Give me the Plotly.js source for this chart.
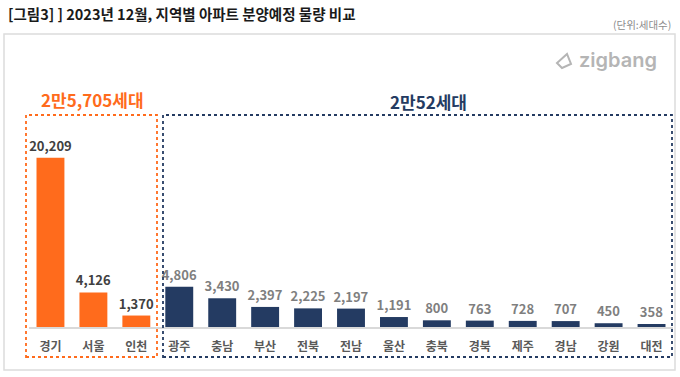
<!DOCTYPE html>
<html>
<head>
<meta charset="utf-8">
<script src="https://cdn.plot.ly/plotly-3.0.1.min.js"></script>
<style>html,body{margin:0;padding:0;background:#fff;}#chart{width:680px;height:377px;}</style>
</head>
<body>
<div id="chart"></div>
<script>
// ---- data ----
const regions = ["경기","서울","인천","광주","충남","부산","전북","전남","울산","충북","경북","제주","경남","강원","대전"];
const units = [20209,4126,1370,4806,3430,2397,2225,2197,1191,800,763,728,707,450,358];
const capitalRegions = ["경기","서울","인천"];
const capitalTotalLabel = "2만5,705세대";
const otherTotalLabel = "2만52세대";

const ORANGE = "#FF6B1C", NAVY = "#243B62";
const FONT = "Noto Sans CJK KR";

const isCap = regions.map(r => capitalRegions.includes(r));
const barColors = isCap.map(c => c ? ORANGE : NAVY);
const textColors = isCap.map(c => c ? "#404040" : "#7f7f7f");

// layout geometry helpers (pixel -> paper)
const W = 680, Hh = 377, ML = 29, MR = 7, MT = 126, MB = 50;
const PW = W - ML - MR, PH = Hh - MT - MB;
const px = x => (x - ML) / PW;
const py = y => (Hh - MB - y) / PH;

const trace = {
  type: "bar",
  x: regions,
  y: units,
  marker: {color: barColors},
  text: units.map(v => v.toLocaleString("en-US")),
  textposition: "outside",
  constraintext: "none",
  cliponaxis: false,
  textfont: {family: FONT, size: 13, color: textColors, weight: 700},
  hoverinfo: "x+y"
};

const layout = {
  width: W, height: Hh,
  margin: {l: ML, r: MR, t: MT, b: MB},
  paper_bgcolor: "#fff", plot_bgcolor: "#fff",
  font: {family: FONT},
  showlegend: false,
  bargap: 0.35,
  title: {text: "[그림3] ] 2023년 12월, 지역별 아파트 분양예정 물량 비교", x: 8/W, xanchor: "left",
          xref: "container", y: 1 - 15/Hh, yref: "container", yanchor: "middle",
          font: {family: FONT, size: 14.5, color: "#1a1a1a", weight: 700}},
  xaxis: {showline: true, linecolor: "#d9d9d9", linewidth: 1.5, ticks: "", showgrid: false,
          ticklabelstandoff: 8,
          tickmode: "array", tickvals: regions, ticktext: regions.map(r => "<b>" + r + "</b>"),
          tickfont: {family: FONT, size: 12, color: "#595959"}, fixedrange: true},
  yaxis: {range: [0, 24000], visible: false, showgrid: false, zeroline: false, fixedrange: true},
  shapes: [
    // outer frame
    {type: "rect", xref: "paper", yref: "paper", x0: px(4), x1: px(675), y0: py(370), y1: py(34),
     line: {color: "#dcdcdc", width: 1.5}},
    // capital box
    {type: "rect", xref: "paper", yref: "paper", x0: px(26), x1: px(157), y0: py(357), y1: py(115),
     line: {color: ORANGE, width: 1.8, dash: "dot"}},
    // other regions box
    {type: "rect", xref: "paper", yref: "paper", x0: px(163), x1: px(672), y0: py(357), y1: py(115),
     line: {color: NAVY, width: 1.8, dash: "dot"}},
    // logo icon
    {type: "path", xref: "paper", yref: "paper", xsizemode: "pixel", ysizemode: "pixel",
     xanchor: px(564), yanchor: py(61),
     path: "M -7 -2 L -2 -7 L 7 -3 L 3 7 Z", line: {color: "#b5b5b5", width: 2}}
  ],
  annotations: [
    {text: "(단위:세대수)", xref: "paper", yref: "paper", x: px(673), y: py(25), xanchor: "right", yanchor: "middle",
     showarrow: false, font: {family: FONT, size: 10.5, color: "#8c8c8c"}},
    {text: "zigbang", xref: "paper", yref: "paper", x: px(577), y: py(60), xanchor: "left", yanchor: "middle",
     showarrow: false, font: {family: "Inter", size: 20, color: "#b5b5b5", weight: 600}},
    {text: capitalTotalLabel, xref: "paper", yref: "paper", x: px(92), y: py(99), xanchor: "center", yanchor: "middle",
     showarrow: false, font: {family: FONT, size: 17, color: ORANGE, weight: 700}},
    {text: otherTotalLabel, xref: "paper", yref: "paper", x: px(428), y: py(101), xanchor: "center", yanchor: "middle",
     showarrow: false, font: {family: FONT, size: 17, color: NAVY, weight: 700}}
  ]
};

Plotly.newPlot("chart", [trace], layout, {displayModeBar: false, staticPlot: true});
</script>
</body>
</html>
